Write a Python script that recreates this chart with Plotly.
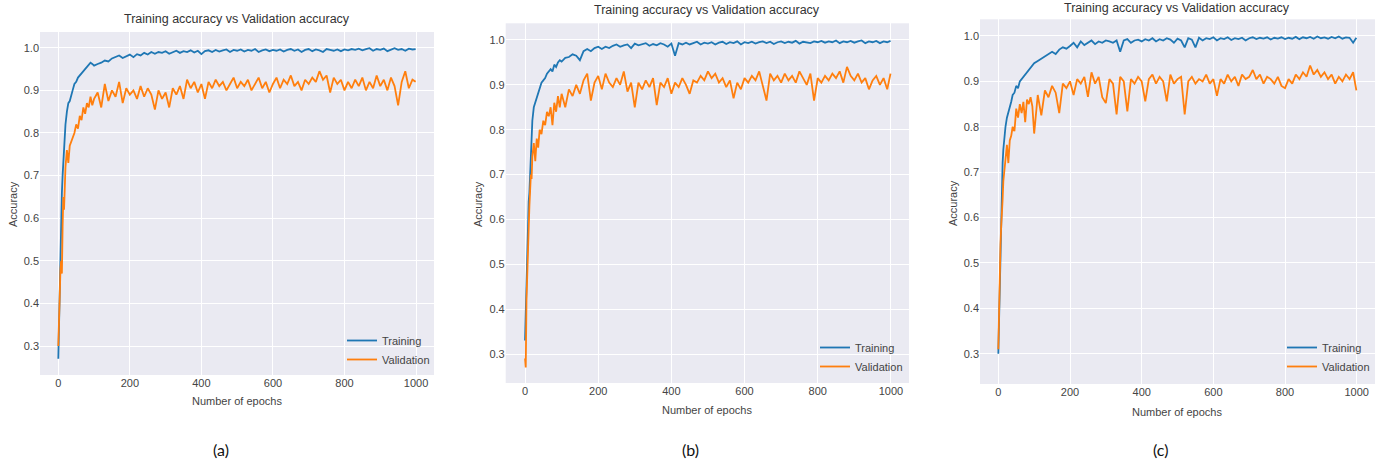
import plotly.graph_objects as go

W, H = 1386, 468

# ---------------- data ----------------
EPOCHS = [0, 2, 4, 6, 8, 10, 12, 14, 16, 18, 20, 24, 28, 32, 36, 40, 45, 50, 55, 60,
          65, 70, 75, 80, 85, 90, 95, 100] + list(range(110, 1000, 10)) + [999]

TRAIN_A = [0.27, 0.36, 0.45, 0.53, 0.60, 0.66, 0.70, 0.74, 0.77, 0.80,
           0.82, 0.85, 0.87, 0.875, 0.89, 0.90, 0.915, 0.92, 0.93, 0.935,
           0.94, 0.945, 0.95, 0.955, 0.96, 0.965, 0.962, 0.958,
           0.962, 0.965, 0.97, 0.968, 0.975, 0.978, 0.982, 0.976, 0.98, 0.984,
           0.978, 0.985, 0.982, 0.988, 0.984, 0.99, 0.986, 0.99, 0.988, 0.992,
           0.986, 0.99, 0.993, 0.988, 0.992, 0.99, 0.994, 0.989, 0.993, 0.985,
           0.992, 0.994, 0.99, 0.995, 0.991, 0.994, 0.996, 0.99, 0.995, 0.993,
           0.996, 0.991, 0.995, 0.993, 0.997, 0.99, 0.994, 0.996, 0.992, 0.995,
           0.993, 0.996, 0.991, 0.995, 0.997, 0.993, 0.996, 0.99, 0.995, 0.997,
           0.992, 0.996, 0.994, 0.99, 0.997, 0.995, 0.993, 0.996, 0.992, 0.996,
           0.994, 0.997, 0.995, 0.998, 0.994, 0.997, 0.999, 0.993, 0.997, 0.995,
           0.998, 0.992, 0.996, 0.999, 0.995, 0.997, 0.993, 0.998, 0.996,
           0.997]
VAL_A = [0.30, 0.38, 0.44, 0.48, 0.50, 0.47, 0.58, 0.65, 0.62, 0.70,
         0.72, 0.76, 0.73, 0.77, 0.78, 0.79, 0.80, 0.82, 0.81, 0.84,
         0.83, 0.86, 0.845, 0.87, 0.86, 0.885, 0.865, 0.88,
         0.895, 0.86, 0.915, 0.875, 0.90, 0.885, 0.92, 0.87, 0.905, 0.89,
         0.90, 0.88, 0.91, 0.885, 0.905, 0.89, 0.855, 0.90, 0.88, 0.895,
         0.86, 0.905, 0.89, 0.91, 0.88, 0.925, 0.905, 0.92, 0.895, 0.915,
         0.88, 0.92, 0.905, 0.925, 0.91, 0.92, 0.90, 0.915, 0.93, 0.905,
         0.92, 0.91, 0.925, 0.90, 0.915, 0.93, 0.905, 0.92, 0.895, 0.915,
         0.93, 0.905, 0.925, 0.915, 0.935, 0.91, 0.92, 0.90, 0.925, 0.915,
         0.93, 0.92, 0.945, 0.925, 0.935, 0.895, 0.93, 0.915, 0.925, 0.90,
         0.92, 0.905, 0.925, 0.91, 0.93, 0.90, 0.92, 0.905, 0.935, 0.91,
         0.925, 0.90, 0.93, 0.91, 0.865, 0.92, 0.945, 0.905, 0.925,
         0.92]

TRAIN_B = [0.33, 0.40, 0.47, 0.52, 0.58, 0.64, 0.66, 0.70, 0.74, 0.79,
           0.82, 0.85, 0.86, 0.875, 0.885, 0.89, 0.905, 0.91, 0.915, 0.925,
           0.93, 0.935, 0.93, 0.945, 0.94, 0.95, 0.955, 0.952,
           0.96, 0.962, 0.968, 0.965, 0.955, 0.975, 0.98, 0.975, 0.982, 0.985,
           0.98, 0.985, 0.982, 0.987, 0.99, 0.985, 0.988, 0.99, 0.982, 0.992,
           0.988, 0.99, 0.993, 0.987, 0.991, 0.988, 0.993, 0.99, 0.985, 0.992,
           0.965, 0.993, 0.99, 0.994, 0.99, 0.993, 0.996, 0.99, 0.994, 0.992,
           0.995, 0.99, 0.994, 0.996, 0.991, 0.995, 0.993, 0.997, 0.99, 0.995,
           0.993, 0.996, 0.992, 0.995, 0.997, 0.993, 0.996, 0.991, 0.995, 0.997,
           0.993, 0.996, 0.994, 0.998, 0.992, 0.996, 0.995, 0.993, 0.997, 0.995,
           0.998, 0.994, 0.997, 0.995, 0.999, 0.993, 0.997, 0.995, 0.998, 0.994,
           0.997, 0.999, 0.993, 0.997, 0.995, 0.998, 0.993, 0.997, 0.995,
           0.998]
VAL_B = [0.29, 0.27, 0.42, 0.50, 0.55, 0.58, 0.63, 0.66, 0.70, 0.69,
         0.74, 0.77, 0.73, 0.78, 0.76, 0.80, 0.79, 0.82, 0.81, 0.84,
         0.83, 0.85, 0.81, 0.86, 0.84, 0.875, 0.85, 0.88,
         0.85, 0.89, 0.875, 0.90, 0.88, 0.91, 0.925, 0.865, 0.905, 0.92,
         0.89, 0.925, 0.905, 0.895, 0.915, 0.90, 0.93, 0.885, 0.905, 0.85,
         0.905, 0.89, 0.91, 0.895, 0.915, 0.855, 0.905, 0.895, 0.915, 0.88,
         0.905, 0.895, 0.915, 0.90, 0.88, 0.91, 0.905, 0.92, 0.91, 0.93,
         0.915, 0.925, 0.905, 0.915, 0.895, 0.91, 0.87, 0.905, 0.89, 0.915,
         0.905, 0.92, 0.91, 0.93, 0.90, 0.865, 0.925, 0.91, 0.92, 0.905,
         0.925, 0.91, 0.92, 0.905, 0.93, 0.915, 0.90, 0.925, 0.865, 0.915,
         0.905, 0.92, 0.91, 0.925, 0.915, 0.93, 0.905, 0.94, 0.92, 0.91,
         0.925, 0.905, 0.915, 0.89, 0.91, 0.92, 0.90, 0.915, 0.89,
         0.925]

TRAIN_C = [0.30, 0.38, 0.48, 0.56, 0.62, 0.68, 0.72, 0.75, 0.77, 0.79,
           0.80, 0.82, 0.83, 0.845, 0.855, 0.87, 0.875, 0.89, 0.885, 0.90,
           0.905, 0.91, 0.915, 0.92, 0.925, 0.93, 0.935, 0.94,
           0.945, 0.95, 0.955, 0.96, 0.965, 0.96, 0.97, 0.975, 0.972, 0.978,
           0.985, 0.975, 0.988, 0.98, 0.985, 0.99, 0.982, 0.988, 0.985, 0.99,
           0.988, 0.985, 0.99, 0.965, 0.99, 0.993, 0.985, 0.99, 0.992, 0.988,
           0.993, 0.99, 0.995, 0.988, 0.993, 0.99, 0.995, 0.992, 0.985, 0.994,
           0.99, 0.975, 0.995, 0.992, 0.975, 0.996, 0.99, 0.995, 0.993, 0.997,
           0.99, 0.995, 0.993, 0.997, 0.991, 0.995, 0.993, 0.996, 0.99, 0.995,
           0.997, 0.993, 0.996, 0.994, 0.997, 0.992, 0.996, 0.994, 0.997, 0.993,
           0.996, 0.994, 0.998, 0.993, 0.997, 0.995, 0.998, 0.994, 0.999, 0.995,
           0.997, 0.994, 0.998, 0.995, 0.999, 0.994, 0.997, 0.996, 0.985,
           0.996]
VAL_C = [0.31, 0.40, 0.50, 0.54, 0.58, 0.60, 0.64, 0.68, 0.70, 0.72,
         0.74, 0.76, 0.72, 0.77, 0.78, 0.80, 0.79, 0.84, 0.82, 0.85,
         0.83, 0.855, 0.81, 0.86, 0.85, 0.865, 0.845, 0.785,
         0.87, 0.825, 0.88, 0.865, 0.89, 0.875, 0.83, 0.895, 0.885, 0.90,
         0.87, 0.905, 0.895, 0.91, 0.866, 0.92, 0.895, 0.91, 0.865, 0.852,
         0.905, 0.895, 0.827, 0.91, 0.90, 0.834, 0.905, 0.895, 0.91, 0.90,
         0.856, 0.905, 0.915, 0.895, 0.91, 0.90, 0.856, 0.915, 0.895, 0.905,
         0.91, 0.827, 0.90, 0.91, 0.895, 0.905, 0.90, 0.915, 0.895, 0.905,
         0.868, 0.905, 0.895, 0.915, 0.90, 0.91, 0.89, 0.915, 0.905, 0.91,
         0.925, 0.905, 0.915, 0.895, 0.91, 0.905, 0.895, 0.91, 0.89, 0.885,
         0.905, 0.895, 0.915, 0.905, 0.92, 0.91, 0.935, 0.915, 0.925, 0.91,
         0.92, 0.905, 0.915, 0.895, 0.91, 0.90, 0.915, 0.905, 0.92,
         0.88]

SERIES_NAMES = ["Training", "Validation"]
TITLE = "Training accuracy vs Validation accuracy"
X_LABEL = "Number of epochs"
Y_LABEL = "Accuracy"
X_TICKS = [0, 200, 400, 600, 800, 1000]
Y_TICKS = [0.3, 0.4, 0.5, 0.6, 0.7, 0.8, 0.9, 1.0]
Y_TICK_TEXT = ["0.3", "0.4", "0.5", "0.6", "0.7", "0.8", "0.9", "1.0"]
CAPTIONS = ["(a)", "(b)", "(c)"]

# ---------------- styling / layout ----------------
BLUE, ORANGE = "#1f77b4", "#ff7f0e"
FONT = "Liberation Sans Narrow, Liberation Sans, Arial, sans-serif"
TXT = "#444444"
TICK_SIZE = 11
LABEL_SIZE = 11
TITLE_SIZE = 12.5


def px(x):
    return x / W


def py(y):
    return 1 - y / H


panels = [
    dict(train=TRAIN_A, val=VAL_A, box=(40, 434, 32, 375), xr=[-51.2, 1050.3], yr=[0.232, 1.037],
         title=(237, 19), xlab=(237, 401), ylab=(13, 204), leg=(342, 326), cap=(221, 449)),
    dict(train=TRAIN_B, val=VAL_B, box=(505.7, 909, 23.3, 383), xr=[-52.8, 1049.5], yr=[0.2354, 1.0372],
         title=(707, 10), xlab=(707, 410), ylab=(478, 204), leg=(815, 333), cap=(690, 449)),
    dict(train=TRAIN_C, val=VAL_C, box=(980, 1375, 19.3, 384), xr=[-51.1, 1051], yr=[0.2333, 1.0367],
         title=(1177, 8), xlab=(1177, 412), ylab=(953, 203), leg=(1282, 333), cap=(1160, 449)),
]

fig = go.Figure()
layout = dict(
    width=W, height=H, margin=dict(l=0, r=0, t=0, b=0),
    paper_bgcolor="white", plot_bgcolor="#EAEAF2",
    font=dict(family=FONT, size=LABEL_SIZE, color=TXT),
    annotations=[], showlegend=True,
)

for i, p in enumerate(panels):
    n = "" if i == 0 else str(i + 1)
    xa, ya = "x" + n, "y" + n
    leg = "legend" + n
    for name, vals, col in ((SERIES_NAMES[0], p["train"], BLUE), (SERIES_NAMES[1], p["val"], ORANGE)):
        fig.add_trace(go.Scatter(x=EPOCHS, y=vals, mode="lines", name=name,
                                 line=dict(color=col, width=1.8), xaxis=xa, yaxis=ya,
                                 legend=leg))
    x0, x1, y0, y1 = p["box"]
    layout["xaxis" + n] = dict(domain=[px(x0), px(x1)], range=p["xr"], anchor=ya,
                               tickvals=X_TICKS, showgrid=True, gridcolor="white", gridwidth=1.2,
                               zeroline=False, showline=False, ticks="",
                               tickfont=dict(size=TICK_SIZE, color=TXT, family=FONT))
    layout["yaxis" + n] = dict(domain=[py(y1), py(y0)], range=p["yr"], anchor=xa,
                               tickvals=Y_TICKS, ticktext=Y_TICK_TEXT, showgrid=True,
                               gridcolor="white", gridwidth=1.2, zeroline=False, showline=False,
                               ticks="", tickfont=dict(size=TICK_SIZE, color=TXT, family=FONT))
    lx, ly = p["leg"]
    layout[leg] = dict(x=px(lx), y=py(ly), xanchor="left", yanchor="top",
                       bgcolor="rgba(0,0,0,0)", borderwidth=0,
                       font=dict(size=LABEL_SIZE, color=TXT, family=FONT), tracegroupgap=0)
    tx, ty = p["title"]
    layout["annotations"].append(dict(text=TITLE, x=px(tx), y=py(ty), xref="paper", yref="paper",
                                      showarrow=False, xanchor="center", yanchor="middle",
                                      font=dict(size=TITLE_SIZE, color="#333333", family=FONT)))
    bx, by = p["xlab"]
    layout["annotations"].append(dict(text=X_LABEL, x=px(bx), y=py(by), xref="paper", yref="paper",
                                      showarrow=False, xanchor="center", yanchor="middle",
                                      font=dict(size=LABEL_SIZE, color=TXT, family=FONT)))
    yx, yy = p["ylab"]
    layout["annotations"].append(dict(text=Y_LABEL, x=px(yx), y=py(yy), xref="paper", yref="paper",
                                      showarrow=False, xanchor="center", yanchor="middle",
                                      textangle=-90,
                                      font=dict(size=LABEL_SIZE, color=TXT, family=FONT)))
    cx, cy = p["cap"]
    layout["annotations"].append(dict(text=CAPTIONS[i], x=px(cx), y=py(cy), xref="paper", yref="paper",
                                      showarrow=False, xanchor="center", yanchor="middle",
                                      font=dict(size=16, color="#111111", family="Lato, Open Sans, sans-serif")))

fig.update_layout(**layout)
fig.write_html("out.html", config={"displayModeBar": False},
               post_script="document.body.style.margin='0';document.body.style.overflow='hidden';")
